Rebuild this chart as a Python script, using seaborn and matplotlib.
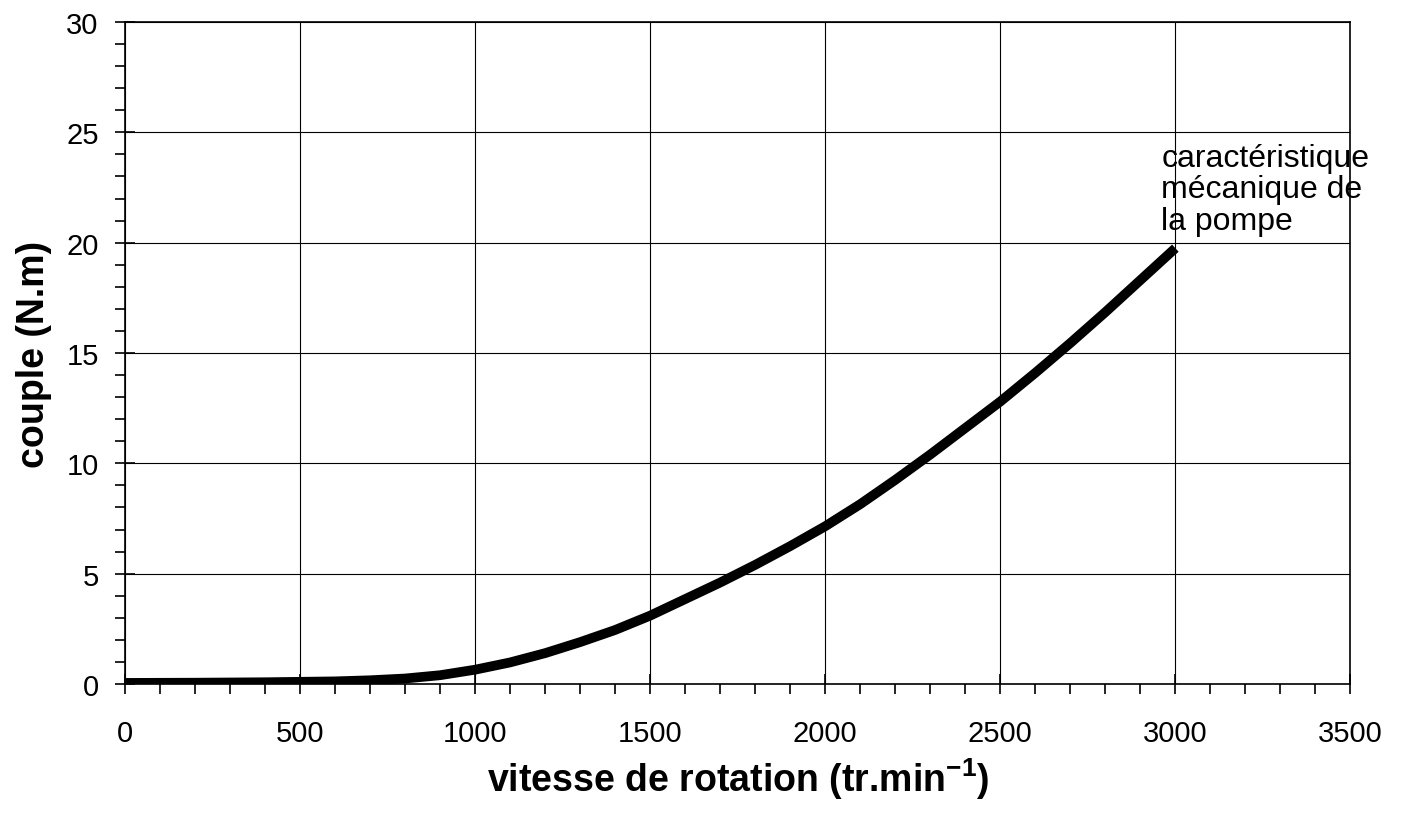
import matplotlib
matplotlib.use("Agg")
import matplotlib.pyplot as plt
from matplotlib.ticker import MultipleLocator
import seaborn as sns
import pandas as pd

# data
vitesse = [0, 200, 400, 600, 700, 800, 900, 1000, 1100, 1200, 1300, 1400, 1500, 1600,
           1700, 1800, 1900, 2000, 2100, 2200, 2300, 2400, 2500, 2600, 2700, 2800, 2900, 3000]
couple = [0.05, 0.06, 0.08, 0.12, 0.17, 0.25, 0.4, 0.65, 0.98, 1.4, 1.9, 2.45, 3.1, 3.85,
          4.6, 5.4, 6.25, 7.15, 8.15, 9.25, 10.4, 11.6, 12.8, 14.1, 15.45, 16.85, 18.3, 19.75]

df = pd.DataFrame({'vitesse': vitesse, 'couple': couple})

sns.set_style('ticks')
plt.rcParams['font.family'] = ['Liberation Sans', 'DejaVu Sans']
plt.rcParams['mathtext.fontset'] = 'custom'
plt.rcParams['mathtext.rm'] = 'Liberation Sans:bold'
plt.rcParams['mathtext.bf'] = 'Liberation Sans:bold'
# plain black text everywhere, like the scanned original
for k in ['text.color', 'axes.labelcolor', 'xtick.color', 'ytick.color']:
    plt.rcParams[k] = 'black'

fig = plt.figure(figsize=(14.02, 8.2), dpi=100)
ax = fig.add_axes([0.0892, 0.1646, 0.874, 0.8074])

sns.lineplot(data=df, x='vitesse', y='couple', ax=ax, color='black', linewidth=7,
             solid_capstyle='butt', solid_joinstyle='round')

ax.set_xlim(0, 3500)
ax.set_ylim(0, 30)
ax.xaxis.set_major_locator(MultipleLocator(500))
ax.xaxis.set_minor_locator(MultipleLocator(100))
ax.yaxis.set_major_locator(MultipleLocator(5))
ax.yaxis.set_minor_locator(MultipleLocator(1))
ax.grid(True, which='major', color='black', linewidth=0.8)
ax.tick_params(axis='x', which='major', direction='inout', length=14, width=1.2, labelsize=21, pad=18)
ax.tick_params(axis='y', which='major', direction='inout', length=14, width=1.2, labelsize=21, pad=12)
ax.tick_params(which='minor', direction='out', length=7, width=1.2)
for s in ax.spines.values():
    s.set_color('black')
    s.set_linewidth(1.2)

ax.set_xlabel('vitesse de rotation (tr.min$^{-1}$)', fontsize=27, fontweight='bold', labelpad=6)
ax.set_ylabel('couple (N.m)', fontsize=27, fontweight='bold', labelpad=10)

ax.text(2960, 24.5, 'caractéristique\nmécanique de\nla pompe', fontsize=23, va='top', ha='left',
        linespacing=1.05)

fig.savefig('out.png', dpi=100, facecolor='white')
